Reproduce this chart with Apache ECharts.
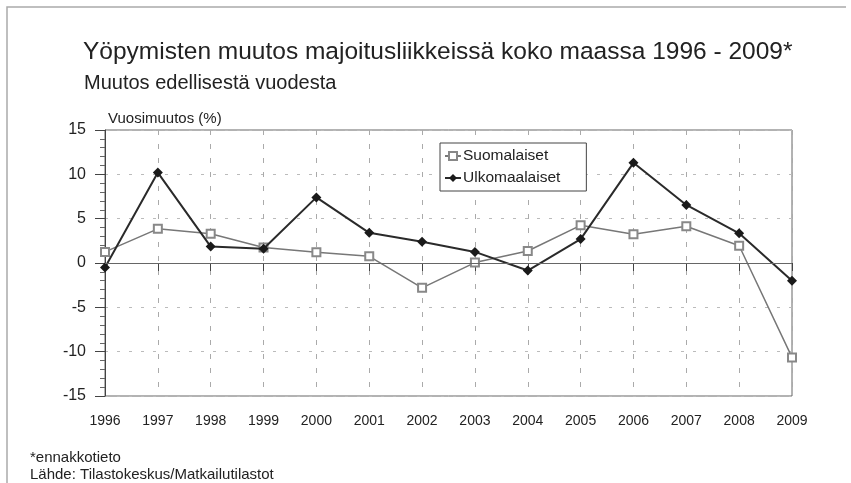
<!DOCTYPE html>
<html><head><meta charset="utf-8">
<script src="https://cdn.jsdelivr.net/npm/echarts@6/dist/echarts.min.js"></script>
<style>html,body{margin:0;padding:0;background:#fff}#c{width:851px;height:483px}</style>
</head><body><div id="c"></div>
<script>
const years = ['1996','1997','1998','1999','2000','2001','2002','2003','2004','2005','2006','2007','2008','2009'];
const suomalaiset = [1.25, 3.85, 3.3, 1.75, 1.2, 0.75, -2.8, 0.05, 1.35, 4.25, 3.25, 4.15, 1.95, -10.65];
const ulkomaalaiset = [-0.5, 10.2, 1.85, 1.6, 7.4, 3.4, 2.4, 1.25, -0.85, 2.7, 11.3, 6.55, 3.35, -2.0];
const titleText = 'Yöpymisten muutos majoitusliikkeissä koko maassa 1996 - 2009*';
const subtitleText = 'Muutos edellisestä vuodesta';
const yAxisName = 'Vuosimuutos (%)';
const footnote1 = '*ennakkotieto';
const footnote2 = 'Lähde: Tilastokeskus/Matkailutilastot';

const FONT = '"Liberation Sans", Arial, sans-serif';
const chart = echarts.init(document.getElementById('c'), null, {renderer: 'canvas'});
chart.setOption({
  animation: false,
  backgroundColor: '#fff',
  textStyle: {fontFamily: FONT, color: '#222'},
  graphic: [
    {type: 'polyline', shape: {points: [[7, 483], [7, 7], [846, 7]]}, style: {fill: 'none', stroke: '#aaa', lineWidth: 1.5}, silent: true},
    {type: 'text', left: 83, top: 40, style: {text: titleText, font: '24.5px ' + FONT, fill: '#222'}},
    {type: 'text', left: 84, top: 73, style: {text: subtitleText, font: '20px ' + FONT, fill: '#222'}},
    {type: 'text', left: 108, top: 111, style: {text: yAxisName, font: '15px ' + FONT, fill: '#222'}},
    {type: 'text', left: 30, top: 450, style: {text: footnote1, font: '15px ' + FONT, fill: '#222'}},
    {type: 'text', left: 30, top: 467, style: {text: footnote2, font: '15px ' + FONT, fill: '#222'}}
  ],
  legend: {
    left: 440, top: 143, orient: 'vertical',
    backgroundColor: '#fff', borderColor: '#444', borderWidth: 1,
    padding: [5, 26, 5, 4], itemGap: 6, itemWidth: 16, itemHeight: 10,
    textStyle: {fontSize: 15.5, fontFamily: FONT, color: '#222', padding: [0, 0, 0, -3]},
    data: ['Suomalaiset', 'Ulkomaalaiset']
  },
  grid: {left: 105, right: 59, top: 130, bottom: 87, show: true, borderColor: '#666', borderWidth: 1},
  xAxis: {
    type: 'category', data: years, boundaryGap: false,
    axisLine: {lineStyle: {color: '#444', width: 1}},
    axisTick: {show: true, length: 8, lineStyle: {color: '#444'}},
    axisLabel: {fontSize: 14, color: '#222', margin: 18, fontFamily: FONT},
    splitLine: {show: true, lineStyle: {color: '#aaa', type: [5, 9], width: 1}}
  },
  yAxis: {
    type: 'value', min: -15, max: 15, interval: 5,
    axisLine: {show: true, lineStyle: {color: '#444'}},
    axisTick: {show: true, length: 10, lineStyle: {color: '#444'}},
    minorTick: {show: true, splitNumber: 5, length: 5, lineStyle: {color: '#666'}},
    axisLabel: {fontSize: 16, color: '#222', margin: 19, fontFamily: FONT},
    splitLine: {show: true, lineStyle: {color: '#bbb', type: [3, 9], width: 1}}
  },
  series: [
    {
      name: 'Suomalaiset', type: 'line', data: suomalaiset,
      symbol: 'emptyRect', symbolSize: 8,
      itemStyle: {color: '#888', borderColor: '#888', borderWidth: 1.2},
      lineStyle: {color: '#777', width: 1.5},
      markLine: {silent: true, symbol: 'none', label: {show: false},
        lineStyle: {color: '#666', type: 'solid', width: 1},
        data: [{yAxis: 0}]},
      z: 3
    },
    {
      name: 'Ulkomaalaiset', type: 'line', data: ulkomaalaiset,
      symbol: 'diamond', symbolSize: 10,
      itemStyle: {color: '#1a1a1a'},
      lineStyle: {color: '#2a2a2a', width: 2},
      z: 4
    }
  ]
});
</script></body></html>
